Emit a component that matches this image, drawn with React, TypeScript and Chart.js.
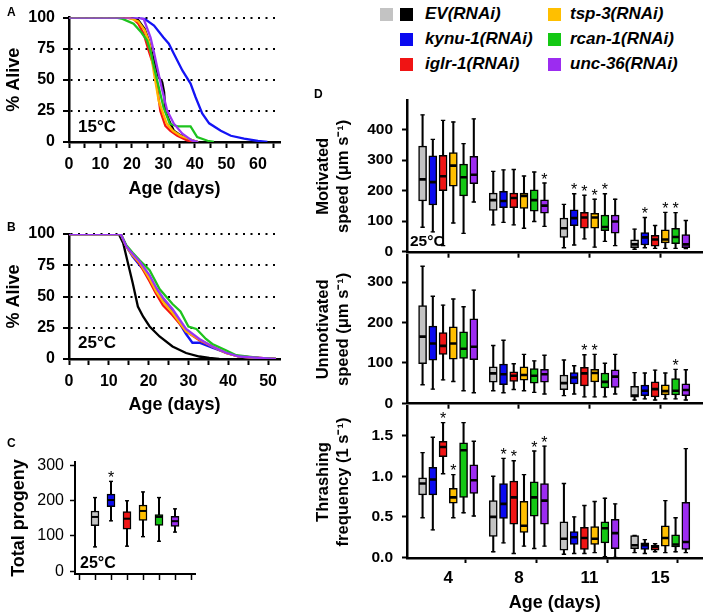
import React, { useEffect, useRef } from 'react';
import { Chart, registerables } from 'chart.js';

Chart.register(...registerables);

const FONT = '"Liberation Sans", Arial, Helvetica, sans-serif';
Chart.defaults.font.family = FONT;
Chart.defaults.color = '#000';

type Box = [number, number, number, number, number]; // min, q1, median, q3, max

// ---------------- series ----------------
const seriesNames = ['EV(RNAi)', 'kynu-1(RNAi)', 'iglr-1(RNAi)', 'tsp-3(RNAi)', 'rcan-1(RNAi)', 'unc-36(RNAi)'];
const boxColors = ['#c3c3c3', '#0a0af0', '#f01414', '#ffbf00', '#14c814', '#9c2cf0'];
const lineColors = ['#000000', '#1414f5', '#f51414', '#ffb400', '#1ec31e', '#9a33f5'];
const ageGroups = ['4', '8', '11', '15'];

// ---------------- A: survival 15 °C ----------------
const a15EvDays = [0, 20, 22, 24, 25.3, 27, 28.5, 29.6, 30.2, 30.6, 32, 33.3, 35, 37.5, 39.7, 41];
const a15EvAlive = [100, 100, 98, 91, 82, 65, 52, 48, 40, 25, 16, 9, 6, 2.7, 1, 0];
const a15KynuDays = [0, 22, 24, 27, 30, 31.7, 33.3, 36, 38.6, 40.2, 42.3, 44.5, 48.2, 51.4, 55.6, 60, 63];
const a15KynuAlive = [100, 100, 99, 93.6, 84, 79, 71, 57.5, 47, 36, 23, 15, 9, 5, 2.7, 0.8, 0];
const a15IglrDays = [0, 18, 20.5, 22, 23.7, 25.3, 27, 28, 29, 30.6, 32.2, 34.4, 37.5, 40];
const a15IglrAlive = [100, 100, 99, 95, 87, 73.5, 60, 44, 25, 13, 9, 5, 1.3, 0];
const a15TspDays = [0, 19, 22, 24, 25.5, 27, 28.5, 30, 31, 33, 35.4, 37.5, 39.7, 41];
const a15TspAlive = [100, 100, 97, 90, 80, 55, 33, 22, 15, 9, 5, 3, 1, 0];
const a15RcanDays = [0, 15, 17, 20.5, 23, 24.8, 26, 27, 28, 30, 32, 34.4, 38.6, 40.7, 44, 46];
const a15RcanAlive = [100, 100, 99, 95, 88, 81.5, 72, 60, 49.5, 28, 14.7, 12.5, 12.5, 4, 1, 0];
const a15UncDays = [0, 22, 23.7, 25.9, 27, 28, 29.6, 31.2, 33.3, 36, 39, 41];
const a15UncAlive = [100, 100, 99, 84, 72, 60, 41.7, 25, 14.7, 6.7, 1.3, 0];

// ---------------- B: survival 25 °C ----------------
const b25EvDays = [0, 12.5, 13.6, 14.8, 16, 17.3, 18.6, 20.25, 22.75, 26, 29.4, 32.75, 35.25, 37.75];
const b25EvAlive = [100, 100, 92.8, 76.8, 60.8, 42, 34, 26, 18, 10, 4.8, 2, 0.8, 0];
const b25KynuDays = [0, 13, 14.4, 16, 17.75, 20.25, 21.9, 23.6, 26, 29.4, 31, 32.75, 36, 39.4, 42.75, 47.75, 52];
const b25KynuAlive = [100, 100, 90, 82, 75, 66, 56, 48, 38, 20, 13, 13, 9, 5, 2, 0.8, 0];
const b25Days = [0, 13, 14.4, 16, 17.75, 20.25, 21.9, 23.6, 26, 29.4, 32.75, 36, 39.4, 42.75, 47.75, 52];
const b25IglrAlive = [100, 100, 90, 83, 76, 62, 52, 43, 35, 22, 15, 10, 4.8, 2, 0.8, 0];
const b25TspAlive = [100, 100, 90, 83, 77, 64, 54, 46, 37, 22, 15.5, 10, 4.8, 2, 0.8, 0];
const b25RcanDays = [0, 13, 14.4, 16, 17.75, 20.25, 22.75, 26, 28, 30, 32, 34.4, 36, 39.4, 42, 47.75, 52];
const b25RcanAlive = [100, 100, 91, 85, 79, 71, 56, 44, 38, 26, 24, 16, 12, 7, 3, 0.8, 0];
const b25UncAlive = [100, 100, 90, 84, 78, 67, 57, 49, 40, 24, 16, 10, 5, 2, 0.8, 0];

const survivalTicks = [0, 25, 50, 75, 100];
const aDayTicks = [0, 5, 10, 15, 20, 25, 30, 35, 40, 45, 50, 55, 60, 65];
const bDayTicks = [0, 5, 10, 15, 20, 25, 30, 35, 40, 45, 50];

// ---------------- C: total progeny ----------------
const progenyEV: Box[] = [[69, 129, 154, 171, 209]];
const progenyKynu: Box[] = [[143, 183, 202, 219, 255]];
const progenyIglr: Box[] = [[71, 119, 149, 169, 200]];
const progenyTsp: Box[] = [[98, 144, 171, 188, 225]];
const progenyRcan: Box[] = [[85, 130, 154, 161, 209]];
const progenyUnc: Box[] = [[111, 127, 142, 156, 177]];
const progenyStars = [[0, 1]];
const progenyTicks = [0, 100, 200, 300];
const progenyBoundaries = [0, 1, 2, 3, 4, 5, 6];

// ---------------- D: motivated speed ----------------
const motivatedEV: Box[] = [[80, 166, 237, 346, 448], [88, 135, 169, 192, 263], [13, 47, 77, 110, 155], [8, 13, 24, 39, 74]];
const motivatedKynu: Box[] = [[65, 153, 228, 314, 368], [96, 144, 166, 198, 268], [22, 85, 110, 137, 190], [13, 22, 47, 63, 112]];
const motivatedIglr: Box[] = [[20, 200, 247, 316, 430], [88, 144, 176, 192, 269], [42, 77, 112, 129, 185], [11, 18, 40, 54, 86]];
const motivatedTsp: Box[] = [[94, 215, 282, 325, 425], [77, 142, 183, 192, 248], [15, 77, 112, 126, 172], [11, 29, 40, 72, 129]];
const motivatedRcan: Box[] = [[60, 183, 244, 287, 354], [99, 133, 169, 203, 261], [34, 69, 81, 120, 190], [11, 26, 48, 77, 128]];
const motivatedUnc: Box[] = [[163, 223, 252, 312, 435], [83, 126, 151, 170, 225], [20, 61, 99, 120, 172], [10, 13, 24, 56, 102]];
const motivatedStars = [[1, 5], [2, 1], [2, 2], [2, 3], [2, 4], [3, 1], [3, 3], [3, 4]];
const motivatedTicks = [0, 100, 200, 300, 400];

// ---------------- D: unmotivated speed ----------------
const unmotivatedEV: Box[] = [[46, 98, 165, 242, 339], [31, 52, 74, 90, 143], [19, 34, 50, 70, 107], [8, 15, 19, 42, 76]];
const unmotivatedKynu: Box[] = [[35, 107, 148, 191, 265], [26, 46, 72, 97, 156], [23, 48, 64, 76, 93], [11, 19, 31, 45, 75]];
const unmotivatedIglr: Box[] = [[58, 121, 142, 175, 243], [34, 54, 68, 78, 98], [16, 43, 74, 89, 120], [8, 16, 35, 53, 82]];
const unmotivatedTsp: Box[] = [[54, 109, 148, 189, 258], [31, 57, 70, 90, 121], [16, 53, 75, 84, 121], [11, 21, 30, 46, 75]];
const unmotivatedRcan: Box[] = [[31, 111, 135, 177, 239], [27, 50, 68, 86, 105], [16, 38, 53, 75, 99], [11, 21, 31, 61, 84]];
const unmotivatedUnc: Box[] = [[26, 108, 140, 209, 280], [23, 52, 72, 84, 119], [23, 39, 66, 83, 121], [8, 19, 33, 48, 83]];
const unmotivatedStars = [[2, 2], [2, 3], [3, 4]];
const unmotivatedTicks = [0, 100, 200, 300];

// ---------------- D: thrashing frequency ----------------
const thrashingEV: Box[] = [[0.49, 0.77, 0.91, 0.98, 1.29], [0.07, 0.26, 0.5, 0.7, 1.0], [0.04, 0.09, 0.23, 0.44, 0.91], [0.06, 0.11, 0.15, 0.27, 0.27]];
const thrashingKynu: Box[] = [[0.34, 0.77, 0.96, 1.11, 1.48], [0.18, 0.48, 0.66, 0.91, 1.22], [0.05, 0.16, 0.25, 0.32, 0.5], [0.05, 0.1, 0.15, 0.18, 0.22]];
const thrashingIglr: Box[] = [[1.03, 1.24, 1.36, 1.43, 1.66], [0.05, 0.41, 0.74, 0.94, 1.19], [0.05, 0.1, 0.24, 0.37, 0.64], [0.07, 0.09, 0.13, 0.15, 0.17]];
const thrashingTsp: Box[] = [[0.49, 0.67, 0.74, 0.85, 1.02], [0.14, 0.31, 0.39, 0.69, 1.02], [0.06, 0.16, 0.23, 0.38, 0.69], [0.06, 0.14, 0.24, 0.39, 0.7]];
const thrashingRcan: Box[] = [[0.55, 0.74, 1.32, 1.41, 1.66], [0.11, 0.51, 0.74, 0.93, 1.31], [0.01, 0.18, 0.36, 0.44, 0.73], [0.07, 0.13, 0.16, 0.28, 0.49]];
const thrashingUnc: Box[] = [[0.51, 0.79, 0.95, 1.14, 1.43], [0.14, 0.41, 0.7, 0.91, 1.37], [0.0, 0.11, 0.3, 0.47, 0.66], [0.06, 0.1, 0.19, 0.68, 1.34]];
const thrashingStars = [[0, 2], [0, 3], [1, 1], [1, 2], [1, 4], [1, 5]];
const thrashingTicks = [0, 0.5, 1.0, 1.5];

const dBoundaryTicks = [-0.5, 0.5, 1.5, 2.5];
const dBottomTicks = [-0.5, 0, 0.5, 1, 1.5, 2, 2.5, 3];

// ---------------- helpers ----------------
type XOf = (g: number, k: number) => number;
const dXOf: XOf = (g, k) => g + (k - 2.5) * 0.145;
const cXOf: XOf = (_g, k) => k + 0.5;

const fixedTicks = (vals: number[]) => (s: any) => {
  s.ticks = vals.map((v) => ({ value: v }));
};

const notePlugin = {
  id: 'note',
  afterDraw(chart: any, _a: any, opts: any) {
    if (!opts || !opts.text) return;
    const { ctx, chartArea } = chart;
    ctx.save();
    ctx.font = `bold ${opts.size}px ${FONT}`;
    ctx.fillStyle = '#000';
    ctx.textAlign = 'left';
    ctx.textBaseline = 'alphabetic';
    ctx.fillText(opts.text, chartArea.left + opts.dx, chartArea.bottom - opts.dy);
    ctx.restore();
  },
};

function makeStarPlugin(stars: number[][], series: Box[][], xOf: XOf) {
  return {
    id: 'stars',
    afterDatasetsDraw(chart: any) {
      const { ctx, scales } = chart;
      ctx.save();
      ctx.font = `16px ${FONT}`;
      ctx.fillStyle = '#000';
      ctx.textAlign = 'center';
      ctx.textBaseline = 'alphabetic';
      for (const [g, k] of stars) {
        const px = scales.x.getPixelForValue(xOf(g, k));
        const py = scales.y.getPixelForValue(series[k][g][4]);
        ctx.fillText('*', px, py + 1.5);
      }
      ctx.restore();
    },
  };
}

function boxDatasets(series: Box[][], xOf: XOf, boxW: number, capR: number, medW: number) {
  const out: any[] = [];
  series.forEach((boxes, k) => {
    const xs = boxes.map((_b, g) => xOf(g, k));
    out.push({
      type: 'bar',
      data: boxes.map((b, g) => ({ x: xs[g], y: [b[0], b[4]] })),
      backgroundColor: '#000',
      borderWidth: 0,
      barThickness: 1.4,
      grouped: false,
      order: 40,
    });
    out.push({
      type: 'bar',
      data: boxes.map((b, g) => ({ x: xs[g], y: [b[1], b[3]] })),
      backgroundColor: boxColors[k],
      borderColor: '#000',
      borderWidth: 1.5,
      borderSkipped: false,
      barThickness: boxW,
      grouped: false,
      order: 30,
    });
    out.push({
      type: 'scatter',
      data: boxes.flatMap((b, g) => [{ x: xs[g], y: b[0] }, { x: xs[g], y: b[4] }]),
      showLine: false,
      pointStyle: 'line',
      pointRadius: capR,
      pointBorderColor: '#000',
      pointBackgroundColor: '#000',
      pointBorderWidth: 1.4,
      order: 20,
    });
    out.push({
      type: 'scatter',
      data: boxes.map((b, g) => ({ x: xs[g], y: b[2] })),
      showLine: false,
      pointStyle: 'line',
      pointRadius: boxW / 2 - 0.6,
      pointBorderColor: '#000',
      pointBackgroundColor: '#000',
      pointBorderWidth: medW,
      order: 10,
    });
  });
  return out;
}

const commonPlugins = { legend: { display: false }, tooltip: { enabled: false }, title: { display: false } };

// ---------------- configs ----------------
type Curve = { days: number[]; alive: number[] };
const survivalOrder = [5, 4, 3, 2, 1, 0];

function survivalConfig(curves: Curve[], xMax: number, xTicks: number[], padTop: number, xAxisH: number, titlePadB: number, note: string, noteDy: number) {
  return {
    type: 'line',
    data: {
      datasets: curves.map((c, k) => ({
        data: c.days.map((d, i) => ({ x: d, y: c.alive[i] })),
        borderColor: lineColors[k],
        borderWidth: 2.3,
        pointRadius: 0,
        tension: 0,
        fill: false,
        order: survivalOrder[k],
      })),
    },
    options: {
      responsive: false,
      animation: false,
      events: [],
      layout: { padding: { left: 0, top: padTop, right: 10, bottom: 0 } },
      scales: {
        x: {
          type: 'linear',
          min: 0,
          max: xMax,
          afterBuildTicks: fixedTicks(xTicks),
          afterFit: (s: any) => { s.height = xAxisH; },
          grid: { drawOnChartArea: false, tickLength: 6, tickWidth: 2, tickColor: '#000' },
          border: { color: '#000', width: 2.5 },
          ticks: {
            autoSkip: false, maxRotation: 0, padding: 7, color: '#000',
            font: { size: 16, weight: 'bold' },
            callback: (v: number) => (v % 10 === 0 ? String(v) : ''),
          },
          title: { display: true, text: 'Age (days)', color: '#000', font: { size: 18, weight: 'bold' }, padding: { top: 0, bottom: titlePadB } },
        },
        y: {
          type: 'linear',
          min: 0,
          max: 100,
          afterBuildTicks: fixedTicks(survivalTicks),
          afterFit: (s: any) => { s.width = 69; },
          grid: {
            color: (c: any) => (c.tick && c.tick.value === 0 ? 'rgba(0,0,0,0)' : '#000'),
            lineWidth: 2, tickLength: 6, tickWidth: 2, tickColor: '#000',
          },
          border: { color: '#000', width: 2.5, dash: [2, 5.5] },
          ticks: { padding: 8, color: '#000', font: { size: 16, weight: 'bold' } },
          title: { display: true, text: '% Alive', color: '#000', font: { size: 18, weight: 'bold' }, padding: { top: 3, bottom: 0 } },
        },
      },
      plugins: { ...commonPlugins, note: { text: note, size: 17, dx: 9, dy: noteDy } },
    },
    plugins: [notePlugin],
  };
}

function progenyConfig() {
  const series = [progenyEV, progenyKynu, progenyIglr, progenyTsp, progenyRcan, progenyUnc];
  return {
    type: 'bar',
    data: { datasets: boxDatasets(series, cXOf, 8, 2, 2) },
    options: {
      responsive: false,
      animation: false,
      events: [],
      layout: { padding: { left: 0, top: 32, right: 10, bottom: 0 } },
      scales: {
        x: {
          type: 'linear', min: -0.75, max: 6.75, offset: false,
          afterBuildTicks: fixedTicks(progenyBoundaries),
          afterFit: (s: any) => { s.height = 42; },
          grid: { drawOnChartArea: false, tickLength: 6, tickWidth: 1.5, tickColor: '#000' },
          border: { color: '#000', width: 2 },
          ticks: { display: false },
        },
        y: {
          type: 'linear', min: -8, max: 310,
          afterBuildTicks: fixedTicks(progenyTicks),
          afterFit: (s: any) => { s.width = 75; },
          grid: { drawOnChartArea: false, tickLength: 5, tickWidth: 1.5, tickColor: '#000' },
          border: { color: '#000', width: 2 },
          ticks: { padding: 6, color: '#000', font: { size: 16, weight: 'normal' } },
          title: { display: true, text: 'Total progeny', color: '#000', font: { size: 18, weight: 'bold' }, padding: { top: 8, bottom: 0 } },
        },
      },
      plugins: { ...commonPlugins, note: { text: '25°C', size: 16, dx: 5, dy: 6 } },
    },
    plugins: [notePlugin, makeStarPlugin(progenyStars, series, cXOf)],
  };
}

function dConfig(
  series: Box[][], stars: number[][], yMin: number, yMax: number, yTicks: number[],
  yFmt: (v: number) => string, title: string[], bottom: boolean, note: string,
) {
  return {
    type: 'bar',
    data: { datasets: boxDatasets(series, dXOf, 8, 2.2, 2.6) },
    options: {
      responsive: false,
      animation: false,
      events: [],
      layout: { padding: { left: 0, top: 20, right: 1, bottom: bottom ? 0 : 10 } },
      scales: {
        x: {
          type: 'linear', min: -0.583, max: 3.597, offset: false,
          afterBuildTicks: fixedTicks(bottom ? dBottomTicks : dBoundaryTicks),
          afterFit: (s: any) => { s.height = bottom ? 58 : 6; },
          grid: {
            drawOnChartArea: false, tickLength: 5, tickWidth: 2,
            tickColor: (c: any) => (c.tick && Number.isInteger(c.tick.value) ? 'rgba(0,0,0,0)' : '#000'),
          },
          border: { color: '#000', width: 2.5 },
          ticks: {
            display: bottom, autoSkip: false, maxRotation: 0, padding: 5, color: '#000',
            font: { size: 17, weight: 'bold' },
            callback: (v: number) => (Number.isInteger(v) ? ageGroups[v] : ''),
          },
          title: bottom
            ? { display: true, text: 'Age (days)', color: '#000', font: { size: 18, weight: 'bold' }, padding: { top: 0, bottom: 2 } }
            : { display: false },
        },
        y: {
          type: 'linear', min: yMin, max: yMax,
          afterBuildTicks: fixedTicks(yTicks),
          afterFit: (s: any) => { s.width = 102; },
          grid: { drawOnChartArea: false, tickLength: 5, tickWidth: 2, tickColor: '#000' },
          border: { color: '#000', width: 2.5 },
          ticks: { padding: 9, color: '#000', font: { size: 15.5, weight: 'bold' }, callback: yFmt },
          title: { display: true, text: title, color: '#000', font: { size: 16.5, weight: 'bold' }, padding: { top: 9, bottom: 0 } },
        },
      },
      plugins: { ...commonPlugins, note: { text: note, size: 15.5, dx: 3, dy: 7 } },
    },
    plugins: [notePlugin, makeStarPlugin(stars, series, dXOf)],
  };
}

// ---------------- components ----------------
function ChartCanvas({ left, top, width, height, make }: { left: number; top: number; width: number; height: number; make: () => any }) {
  const ref = useRef<HTMLCanvasElement | null>(null);
  useEffect(() => {
    if (!ref.current) return;
    const chart = new Chart(ref.current, make());
    return () => chart.destroy();
  }, []);
  return <canvas ref={ref} width={width} height={height} style={{ position: 'absolute', left, top, width, height }} />;
}

function Letter({ text, left, top }: { text: string; left: number; top: number }) {
  return (
    <div style={{ position: 'absolute', left, top, font: `bold 12px ${FONT}`, lineHeight: '12px' }}>{text}</div>
  );
}

function Legend() {
  const rowY = [14, 39, 64];
  const squareX = [400, 548];
  const textX = [425, 570];
  return (
    <>
      <div style={{ position: 'absolute', left: 380, top: rowY[0] - 6.5, width: 13, height: 13, background: boxColors[0] }} />
      {seriesNames.map((name, i) => {
        const col = Math.floor(i / 3);
        const row = i % 3;
        return (
          <React.Fragment key={name}>
            <div style={{ position: 'absolute', left: squareX[col], top: rowY[row] - 6.5, width: 13, height: 13, background: i === 0 ? '#000' : boxColors[i] }} />
            <div style={{ position: 'absolute', left: textX[col], top: rowY[row] - 10, lineHeight: '20px', font: `italic bold 17px ${FONT}`, whiteSpace: 'nowrap' }}>
              {name}
            </div>
          </React.Fragment>
        );
      })}
    </>
  );
}

export default function App() {
  const curvesA: Curve[] = [
    { days: a15EvDays, alive: a15EvAlive },
    { days: a15KynuDays, alive: a15KynuAlive },
    { days: a15IglrDays, alive: a15IglrAlive },
    { days: a15TspDays, alive: a15TspAlive },
    { days: a15RcanDays, alive: a15RcanAlive },
    { days: a15UncDays, alive: a15UncAlive },
  ];
  const curvesB: Curve[] = [
    { days: b25EvDays, alive: b25EvAlive },
    { days: b25KynuDays, alive: b25KynuAlive },
    { days: b25Days, alive: b25IglrAlive },
    { days: b25Days, alive: b25TspAlive },
    { days: b25RcanDays, alive: b25RcanAlive },
    { days: b25Days, alive: b25UncAlive },
  ];
  const motivated = [motivatedEV, motivatedKynu, motivatedIglr, motivatedTsp, motivatedRcan, motivatedUnc];
  const unmotivated = [unmotivatedEV, unmotivatedKynu, unmotivatedIglr, unmotivatedTsp, unmotivatedRcan, unmotivatedUnc];
  const thrashing = [thrashingEV, thrashingKynu, thrashingIglr, thrashingTsp, thrashingRcan, thrashingUnc];
  const intFmt = (v: number) => String(v);
  const decFmt = (v: number) => v.toFixed(1);

  return (
    <div style={{ position: 'absolute', left: 0, top: 0, width: 709, height: 616, background: '#fff', overflow: 'hidden', fontFamily: FONT, color: '#000' }}>
      <ChartCanvas left={0} top={0} width={290} height={200} make={() => survivalConfig(curvesA, 67, aDayTicks, 17, 58, 0, '15°C', 10)} />
      <ChartCanvas left={0} top={200} width={290} height={220} make={() => survivalConfig(curvesB, 53, bDayTicks, 34, 61, 4, '25°C', 11)} />
      <ChartCanvas left={0} top={430} width={205} height={186} make={progenyConfig} />
      <ChartCanvas left={305} top={80} width={404} height={191}
        make={() => dConfig(motivated, motivatedStars, -3.2, 496.8, motivatedTicks, intFmt, ['Motivated', 'speed (μm s⁻¹)'], false, '25°C')} />
      <ChartCanvas left={305} top={235} width={404} height={187}
        make={() => dConfig(unmotivated, unmotivatedStars, -1, 367, unmotivatedTicks, intFmt, ['Unmotivated', 'speed (μm s⁻¹)'], false, '')} />
      <ChartCanvas left={305} top={386} width={404} height={230}
        make={() => dConfig(thrashing, thrashingStars, -0.006, 1.864, thrashingTicks, decFmt, ['Thrashing', 'frequency (1 s⁻¹)'], true, '')} />
      <Letter text="A" left={7} top={5.5} />
      <Letter text="B" left={7} top={220.5} />
      <Letter text="C" left={7} top={436.5} />
      <Letter text="D" left={314} top={88} />
      <Legend />
    </div>
  );
}
